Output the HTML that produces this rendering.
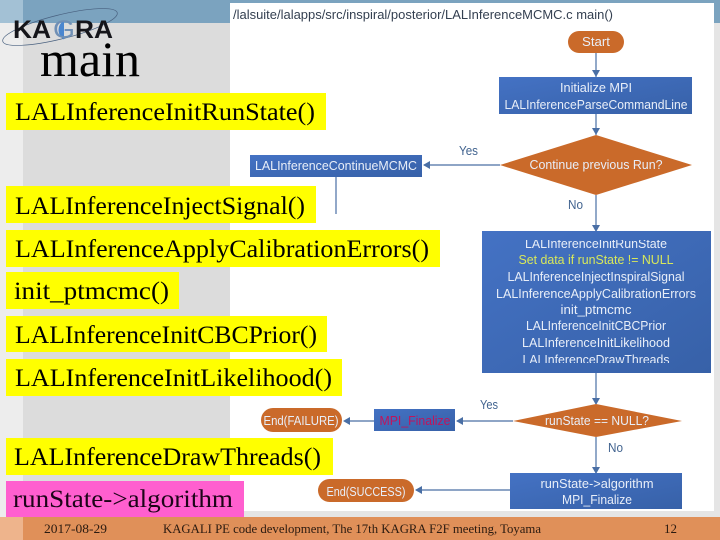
<!DOCTYPE html>
<html><head><meta charset="utf-8"><style>
html,body{margin:0;padding:0;width:720px;height:540px;overflow:hidden;background:#fff}
svg{display:block}
.s{font-family:"Liberation Serif",serif;font-size:25px;fill:#000}
.f{font-family:"Liberation Sans",sans-serif;font-size:12.5px;fill:#e8eef8}
.l{font-family:"Liberation Sans",sans-serif;font-size:12.5px;fill:#41638f}
.t{font-family:"Liberation Serif",serif;font-size:13px;fill:#2a1a10}
</style></head><body>
<svg width="720" height="540" viewBox="0 0 720 540" xmlns="http://www.w3.org/2000/svg">
<defs>
<linearGradient id="b" x1="0" y1="0" x2="1" y2="1"><stop offset="0" stop-color="#4472c4"/><stop offset="1" stop-color="#3761a8"/></linearGradient>
<clipPath id="c"><rect x="482" y="240" width="229" height="123"/></clipPath>
</defs>
<rect width="720" height="540" fill="#e5e5e5"/>
<rect x="0" y="23" width="23" height="494" fill="#ededed"/>
<rect x="23" y="23" width="207" height="494" fill="#dcdcdc"/>
<rect x="0" y="0" width="720" height="23" fill="#7ba3bf"/>
<rect x="0" y="0" width="23" height="23" fill="#a3c1d5"/>
<rect x="230" y="3" width="484" height="508" fill="#fff"/>
<rect x="0" y="517" width="720" height="23" fill="#e09059"/>
<rect x="0" y="517" width="23" height="23" fill="#eeb48c"/>

<!-- logo -->
<ellipse cx="60" cy="27" rx="59" ry="12" transform="rotate(-14 60 27)" fill="none" stroke="#48607f" stroke-width="0.7"/>
<path d="M64 20.5A11 11 0 0 0 64 39.5Z" fill="#4a86cf"/>
<text x="13" y="38" font-family="Liberation Sans,sans-serif" font-weight="bold" font-size="25" fill="#15151a" textLength="38" lengthAdjust="spacingAndGlyphs">KA</text>
<text x="53" y="38" font-family="Liberation Sans,sans-serif" font-size="25" fill="#6f8fb5" textLength="22" lengthAdjust="spacingAndGlyphs">G</text>
<text x="75" y="38" font-family="Liberation Sans,sans-serif" font-weight="bold" font-size="25" fill="#15151a" textLength="38" lengthAdjust="spacingAndGlyphs">RA</text>
<text x="40" y="76" font-family="Liberation Serif,serif" font-size="50" fill="#000" textLength="100" lengthAdjust="spacingAndGlyphs">main</text>

<!-- header path -->
<text x="233" y="19" font-family="Liberation Sans,sans-serif" font-size="13" fill="#333f50" textLength="380" lengthAdjust="spacingAndGlyphs">/lalsuite/lalapps/src/inspiral/posterior/LALInferenceMCMC.c main()</text>

<!-- connectors -->
<g stroke="#4a6fa5" stroke-width="1.2" fill="none">
<path d="M596 53V77"/><path d="M596 114V135"/><path d="M596 195V231"/>
<path d="M500 165H424"/><path d="M336 177V214"/>
<path d="M596 373V404"/><path d="M596 437V473"/>
<path d="M513 421H457"/><path d="M374 421H345"/><path d="M510 490H416"/>
</g>
<g fill="#4a6fa5">
<path d="M592 70L596 77L600 70Z"/><path d="M592 128L596 135L600 128Z"/><path d="M592 225L596 232L600 225Z"/>
<path d="M592 398L596 405L600 398Z"/><path d="M592 467L596 474L600 467Z"/>
<path d="M423 165L430 161V169Z"/><path d="M456 421L463 417V425Z"/><path d="M343 421L350 417V425Z"/><path d="M415 490L422 486V494Z"/>
</g>

<!-- start -->
<rect x="568" y="31" width="56" height="22" rx="11" fill="#ca6a2a"/>
<text x="596" y="46" text-anchor="middle" class="f" textLength="28" lengthAdjust="spacingAndGlyphs">Start</text>

<rect x="499" y="77" width="193" height="37" fill="url(#b)"/>
<text x="596" y="92" text-anchor="middle" class="f" textLength="72" lengthAdjust="spacingAndGlyphs">Initialize MPI</text>
<text x="596" y="109" text-anchor="middle" class="f" textLength="183" lengthAdjust="spacingAndGlyphs">LALInferenceParseCommandLine</text>

<path d="M596 135L692 165L596 195L500 165Z" fill="#ca6a2a"/>
<text x="596" y="169" text-anchor="middle" class="f" textLength="133" lengthAdjust="spacingAndGlyphs">Continue previous Run?</text>
<text x="459" y="155" class="l" textLength="19" lengthAdjust="spacingAndGlyphs">Yes</text>
<text x="568" y="209" class="l" textLength="15" lengthAdjust="spacingAndGlyphs">No</text>

<rect x="250" y="155" width="172" height="22" fill="url(#b)"/>
<text x="336" y="170" text-anchor="middle" class="f" textLength="162" lengthAdjust="spacingAndGlyphs">LALInferenceContinueMCMC</text>

<!-- big box -->
<rect x="482" y="231" width="229" height="142" fill="url(#b)"/>
<g text-anchor="middle" class="f" clip-path="url(#c)">
<text x="596" y="248" textLength="142" lengthAdjust="spacingAndGlyphs">LALInferenceInitRunState</text>
<text x="596" y="264" textLength="155" lengthAdjust="spacingAndGlyphs" style="fill:#d8e85a">Set data if runState != NULL</text>
<text x="596" y="281" textLength="177" lengthAdjust="spacingAndGlyphs">LALInferenceInjectInspiralSignal</text>
<text x="596" y="298" textLength="200" lengthAdjust="spacingAndGlyphs">LALInferenceApplyCalibrationErrors</text>
<text x="596" y="314" textLength="71" lengthAdjust="spacingAndGlyphs">init_ptmcmc</text>
<text x="596" y="330" textLength="140" lengthAdjust="spacingAndGlyphs">LALInferenceInitCBCPrior</text>
<text x="596" y="347" textLength="148" lengthAdjust="spacingAndGlyphs">LALInferenceInitLikelihood</text>
<text x="596" y="364" textLength="147" lengthAdjust="spacingAndGlyphs">LALInferenceDrawThreads</text>
</g>

<path d="M596 404L682 421L596 437L513 421Z" fill="#ca6a2a"/>
<text x="597" y="425" text-anchor="middle" class="f" textLength="104" lengthAdjust="spacingAndGlyphs">runState == NULL?</text>
<text x="480" y="409" class="l" textLength="18" lengthAdjust="spacingAndGlyphs">Yes</text>
<text x="608" y="452" class="l" textLength="15" lengthAdjust="spacingAndGlyphs">No</text>

<rect x="374" y="409" width="81" height="22" fill="url(#b)"/>
<text x="415" y="425" text-anchor="middle" font-family="Liberation Sans,sans-serif" font-size="12.5" fill="#c0145c" textLength="71" lengthAdjust="spacingAndGlyphs">MPI_Finalize</text>

<rect x="261" y="408" width="81" height="24" rx="12" fill="#ca6a2a"/>
<text x="301" y="425" text-anchor="middle" class="f" textLength="75" lengthAdjust="spacingAndGlyphs">End(FAILURE)</text>

<rect x="510" y="473" width="172" height="36" fill="url(#b)"/>
<text x="597" y="488" text-anchor="middle" class="f" textLength="113" lengthAdjust="spacingAndGlyphs" style="font-size:13px">runState-&gt;algorithm</text>
<text x="597" y="504" text-anchor="middle" class="f" textLength="70" lengthAdjust="spacingAndGlyphs">MPI_Finalize</text>

<rect x="318" y="479" width="96" height="23" rx="11.5" fill="#ca6a2a"/>
<text x="366" y="496" text-anchor="middle" class="f" textLength="79" lengthAdjust="spacingAndGlyphs">End(SUCCESS)</text>

<!-- labels -->
<rect x="6" y="93" width="320" height="37" fill="#ffff00"/>
<text x="15" y="120" class="s" textLength="300" lengthAdjust="spacingAndGlyphs">LALInferenceInitRunState()</text>
<rect x="6" y="186" width="310" height="37" fill="#ffff00"/>
<text x="15" y="214" class="s" textLength="290" lengthAdjust="spacingAndGlyphs">LALInferenceInjectSignal()</text>
<rect x="6" y="230" width="434" height="37" fill="#ffff00"/>
<text x="15" y="257" class="s" textLength="414" lengthAdjust="spacingAndGlyphs">LALInferenceApplyCalibrationErrors()</text>
<rect x="6" y="272" width="173" height="37" fill="#ffff00"/>
<text x="14" y="299" class="s" textLength="155" lengthAdjust="spacingAndGlyphs">init_ptmcmc()</text>
<rect x="6" y="316" width="321" height="36" fill="#ffff00"/>
<text x="15" y="343" class="s" textLength="302" lengthAdjust="spacingAndGlyphs">LALInferenceInitCBCPrior()</text>
<rect x="6" y="359" width="336" height="37" fill="#ffff00"/>
<text x="15" y="386" class="s" textLength="317" lengthAdjust="spacingAndGlyphs">LALInferenceInitLikelihood()</text>
<rect x="6" y="438" width="327" height="37" fill="#ffff00"/>
<text x="14" y="465" class="s" textLength="307" lengthAdjust="spacingAndGlyphs">LALInferenceDrawThreads()</text>
<rect x="6" y="481" width="238" height="36" fill="#ff5fcf"/>
<text x="13" y="507" class="s" textLength="220" lengthAdjust="spacingAndGlyphs" style="fill:#1c0418">runState-&gt;algorithm</text>

<!-- footer -->
<text x="44" y="533" class="t" textLength="63" lengthAdjust="spacingAndGlyphs">2017-08-29</text>
<text x="163" y="533" class="t" textLength="378" lengthAdjust="spacingAndGlyphs">KAGALI PE code development, The 17th KAGRA F2F meeting, Toyama</text>
<text x="664" y="533" class="t" textLength="13" lengthAdjust="spacingAndGlyphs">12</text>
</svg>
</body></html>
